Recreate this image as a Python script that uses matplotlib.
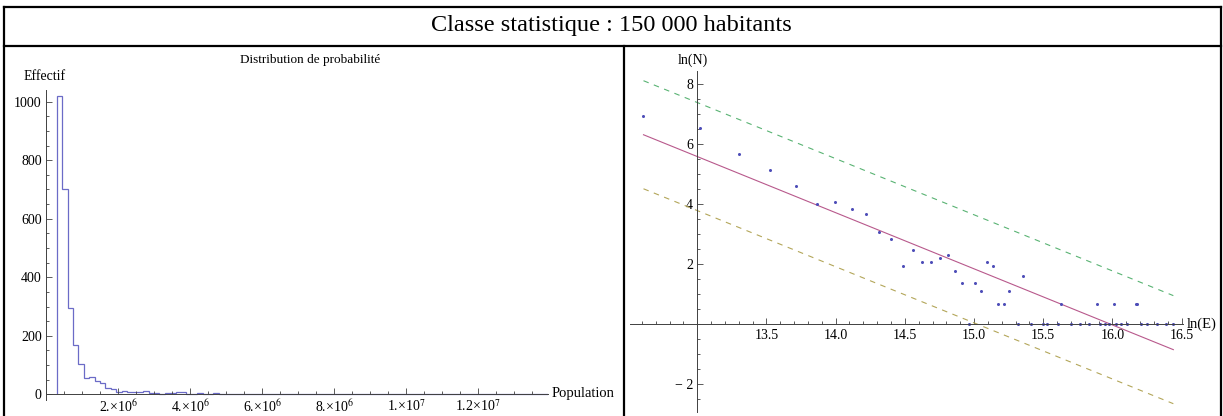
import numpy as np
import matplotlib

matplotlib.use("Agg")

import matplotlib.pyplot as plt  # noqa: E402
from matplotlib.lines import Line2D  # noqa: E402
from matplotlib.ticker import FixedLocator, FuncFormatter, MultipleLocator  # noqa: E402

# histogram of town populations, classes of 150 000 starting at 300 000
bin_start = 300_000
bin_width = 150_000
counts = [
    1020, 700, 294, 170, 102, 55, 59, 46, 40, 22,
    17, 7, 12, 8, 8, 9, 10, 6, 4, 1,
    4, 3, 8, 7, 2, 2, 3, 0, 1, 5,
    0, 1, 0, 0, 1, 1, 0, 0, 1, 2,
    0, 0, 1, 0, 0, 1, 0, 0, 1, 0,
    0, 2, 1, 0, 1, 0, 1, 0, 2, 1,
    0, 1, 0, 0, 1, 0, 0, 0, 2, 2,
    0, 1, 0, 0, 1, 0, 0, 0, 0, 0,
    1, 0, 0, 0, 0, 1, 0, 0, 0, 0,
    1,
]

# log-log fit: ln(N) = a + b ln(E), band +/- d
fit_intercept = 29.90
fit_slope = -1.87
band = 1.8

title = "Classe statistique : 150 000 habitants"
hist_title = "Distribution de probabilité"
hist_ylabel = "Effectif"
hist_xlabel = "Population"
log_ylabel = "ln(N)"
log_xlabel = "ln(E)"

hist_yticks = [0, 200, 400, 600, 800, 1000]
hist_xticks = [2e6, 4e6, 6e6, 8e6, 1e7, 1.2e7]
log_xticks = [13.5, 14.0, 14.5, 15.0, 15.5, 16.0, 16.5]
log_yticks = [-2, 2, 4, 6, 8]

HIST = (0.42, 0.42, 0.78)
POINTS = (0.3, 0.3, 0.72)
MAGENTA = (0.72, 0.35, 0.55)
OLIVE = (0.7, 0.65, 0.35)
GREEN = (0.35, 0.7, 0.45)
AXIS = "#404040"

plt.rcParams["font.family"] = ["Liberation Serif", "DejaVu Serif"]
plt.rcParams["mathtext.fontset"] = "stix"

W, H = 1223, 416
fig = plt.figure(figsize=(W / 100, H / 100), dpi=100)


def box(x0, y0, x1, y1):
    """Pixel rectangle (top-left origin) -> figure axes rect."""
    return [x0 / W, 1 - y1 / H, (x1 - x0) / W, (y1 - y0) / H]


def fx(x):
    return x / W


def fy(y):
    return 1 - y / H


# table frame
for xs, ys in [
    ((4, 1221), (7, 7)),
    ((4, 1221), (45.5, 45.5)),
    ((4, 4), (7, 416)),
    ((1221, 1221), (7, 416)),
    ((624, 624), (45.5, 416)),
]:
    fig.add_artist(
        Line2D([fx(v) for v in xs], [fy(v) for v in ys], color="black", lw=1.6)
    )

fig.text(fx(611), fy(26), title, ha="center", va="center", fontsize=17.5)


def style_axes(ax):
    ax.set_facecolor("none")
    for side in ("top", "right"):
        ax.spines[side].set_visible(False)
    for side in ("left", "bottom"):
        ax.spines[side].set_color(AXIS)
        ax.spines[side].set_linewidth(0.7)
    ax.tick_params(which="both", direction="in", color=AXIS, width=0.6,
                   labelsize=10, pad=3)
    ax.tick_params(which="major", length=4)
    ax.tick_params(which="minor", length=2)


# --- left: histogram ---------------------------------------------------------
edges = bin_start + bin_width * np.arange(len(counts) + 1)

ax1 = fig.add_axes(box(46, 90, 548, 400))
style_axes(ax1)
ax1.stairs(counts, edges, baseline=0, color=HIST, lw=0.9)
ax1.set_xlim(0, 13.94e6)
ax1.set_ylim(-19.5, 1040)
ax1.spines["left"].set_position(("data", 0))
ax1.spines["bottom"].set_position(("data", 0))
ax1.yaxis.set_major_locator(FixedLocator(hist_yticks))
ax1.yaxis.set_minor_locator(MultipleLocator(50))
ax1.xaxis.set_major_locator(FixedLocator(hist_xticks))
ax1.xaxis.set_minor_locator(MultipleLocator(5e5))


def sci_label(v, pos):
    e = int(np.floor(np.log10(v)))
    m = v / 10 ** e
    ms = f"{int(round(m))}." if abs(m - round(m)) < 1e-9 else f"{m:g}"
    return ms + "×10$^{" + str(e) + "}$"


ax1.xaxis.set_major_formatter(FuncFormatter(sci_label))

fig.text(fx(310), fy(60), hist_title, ha="center", va="center", fontsize=9.5)
fig.text(fx(45), fy(77), hist_ylabel, ha="center", va="center", fontsize=10)
fig.text(fx(552), fy(393), hist_xlabel, ha="left", va="center", fontsize=10.5)

# --- right: log-log view of the same counts ---------------------------------
counts_arr = np.array(counts)
nz = counts_arr > 0
ln_e = np.log(edges[:-1][nz])
ln_n = np.log(counts_arr[nz])

ax2 = fig.add_axes(box(630, 70.7, 1183, 411.7))
style_axes(ax2)
ax2.set_xlim(12.514, 16.51)
ax2.set_ylim(-2.91, 8.45)
ax2.spines["left"].set_position(("data", 13))
ax2.spines["bottom"].set_position(("data", 0))

xs = np.array([ln_e.min(), ln_e.max()])
fit = fit_intercept + fit_slope * xs
ax2.plot(xs, fit + band, color=GREEN, lw=0.8, dashes=(5, 5))
ax2.plot(xs, fit - band, color=OLIVE, lw=0.8, dashes=(5, 5))
ax2.plot(xs, fit, color=MAGENTA, lw=0.8)
ax2.plot(ln_e, ln_n, "o", color=POINTS, ms=2.2, mew=0)

ax2.xaxis.set_major_locator(FixedLocator(log_xticks))
ax2.xaxis.set_minor_locator(MultipleLocator(0.1))
ax2.xaxis.set_major_formatter(FuncFormatter(lambda v, p: f"{v:.1f}"))
ax2.yaxis.set_major_locator(FixedLocator(log_yticks))
ax2.yaxis.set_minor_locator(MultipleLocator(0.5))
ax2.yaxis.set_major_formatter(
    FuncFormatter(lambda v, p: f"− {abs(int(v))}" if v < 0 else f"{int(v)}")
)

fig.text(fx(693), fy(60), log_ylabel, ha="center", va="center", fontsize=10)
fig.text(fx(1187), fy(324), log_xlabel, ha="left", va="center", fontsize=10.5)

fig.savefig("out.png", dpi=100)
